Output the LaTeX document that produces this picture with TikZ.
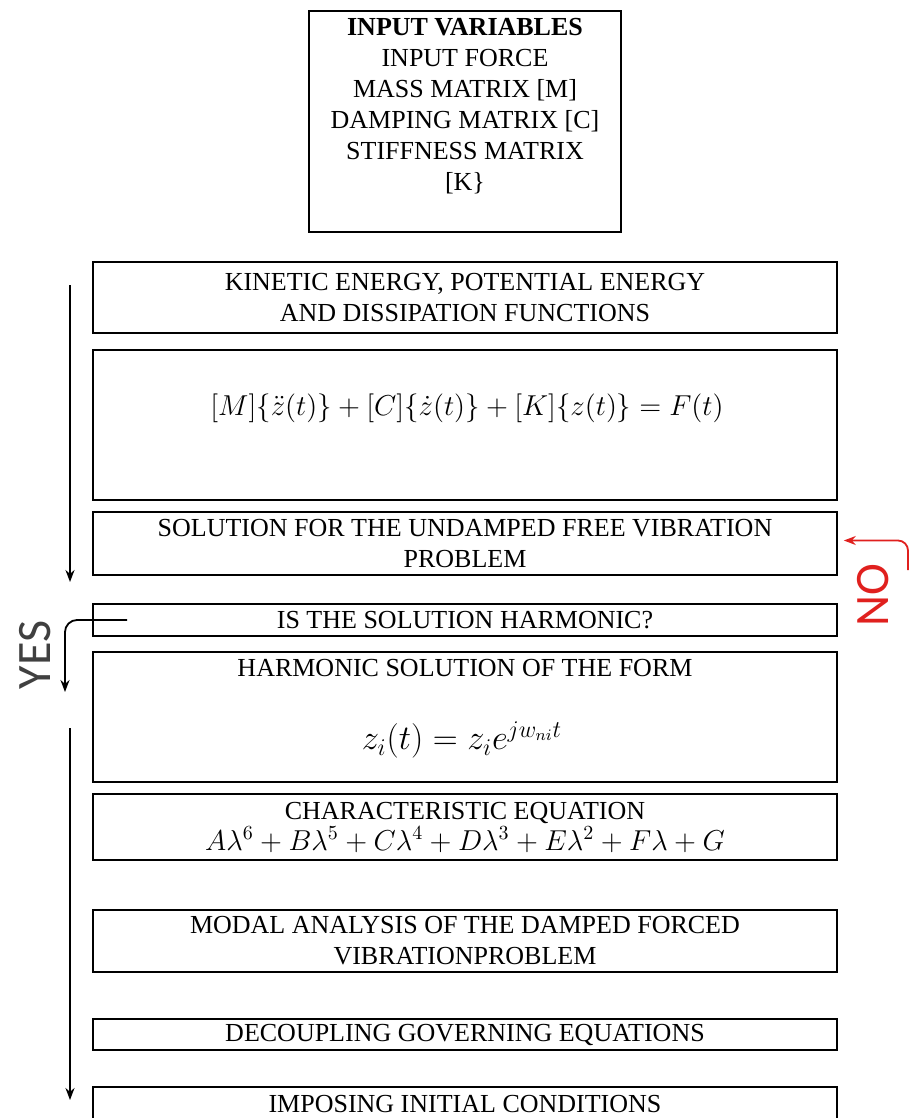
\documentclass[tikz,border=0pt]{standalone}
\usepackage{fontspec}
\setmainfont{Liberation Serif}
\newfontfamily\labelfont{Carlito}
\usetikzlibrary{arrows.meta}
\definecolor{nored}{RGB}{224,32,30}
\definecolor{yesgray}{RGB}{64,64,64}
\tikzset{
  stepbox/.style={draw, line width=0.8pt, minimum width=372pt, inner sep=0pt,
    align=center, font=\fontsize{13}{15.5}\selectfont},
  steptxt/.style={inner sep=0pt, align=center, font=\fontsize{13}{15.5}\selectfont},
  flow/.style={line width=0.9pt, -{Stealth[length=6pt,width=4.5pt]}},
  answer/.style={rotate=90, inner sep=0pt, font=\labelfont\fontsize{24}{24}\selectfont},
}
\begin{document}
\begin{tikzpicture}[x=0.5pt, y=-0.5pt]
    \clip (0,0) rectangle (911,1118);
    % Input variables
    \node[stepbox, minimum width=156pt, minimum height=110.5pt] (inputs) at (465,121.5) {};
    \node[steptxt] (inputtxt) at (465,106.5) {\textbf{INPUT VARIABLES}\\INPUT FORCE\\MASS MATRIX [M]\\DAMPING MATRIX [C]\\STIFFNESS MATRIX\\{[K\}}};
    % Steps of the analysis
    \node[stepbox, minimum height=35.5pt] (energy) at (465,297.5) {KINETIC ENERGY, POTENTIAL ENERGY\\AND DISSIPATION FUNCTIONS};
    \node[stepbox, minimum height=75pt] (motion) at (465,425) {};
    \node[steptxt, font=\fontsize{15.6}{18}\selectfont] (motioneq) at (467,408) {$[M]\{\ddot{z}(t)\}+[C]\{\dot{z}(t)\}+[K]\{z(t)\}=F(t)$};
    \node[stepbox, minimum height=31.5pt] (undamped) at (465,543.5) {SOLUTION FOR THE UNDAMPED FREE VIBRATION\\PROBLEM};
    \node[stepbox, minimum height=16pt] (check) at (465,620) {IS THE SOLUTION HARMONIC?};
    \node[stepbox, minimum height=65pt] (harmonic) at (465,717) {};
    \node[steptxt] (harmtitle) at (465,668) {HARMONIC SOLUTION OF THE FORM};
    \node[steptxt, font=\fontsize{17}{20}\selectfont] (harmeq) at (462,740) {$z_i(t)=z_ie^{jw_{ni}t}$};
    \node[stepbox, minimum height=33pt] (chareq) at (465,827) {CHARACTERISTIC EQUATION\\{\fontsize{14.8}{15.5}\selectfont$A\lambda^6+B\lambda^5+C\lambda^4+D\lambda^3+E\lambda^2+F\lambda+G$}};
    \node[stepbox, minimum height=31pt] (modal) at (465,941) {MODAL ANALYSIS OF THE DAMPED FORCED\\VIBRATIONPROBLEM};
    \node[stepbox, minimum height=15.5pt] (decouple) at (465,1034.5) {DECOUPLING GOVERNING EQUATIONS};
    \node[stepbox, minimum height=17pt] (initial) at (465,1104) {IMPOSING INITIAL CONDITIONS};
    % Flow arrows on the left
    \coordinate (upstart) at (70,285);
    \coordinate (upend) at (70,582);
    \coordinate (lowstart) at (70,728);
    \coordinate (lowend) at (70,1100);
    \draw[flow] (upstart) -- (upend);
    \draw[flow] (lowstart) -- (lowend);
    % YES branch
    \coordinate (yesend) at (65,692);
    \draw[flow, rounded corners=6pt] ([xshift=17.5pt]check.west) -| (yesend);
    \node[answer, text=yesgray] (yes) at (35,655) {YES};
    % NO branch
    \coordinate (nostart) at (908,570);
    \draw[flow, nored, rounded corners=5pt] (nostart) |- ([xshift=3pt,yshift=1.5pt]undamped.east);
    \node[answer, text=nored] (no) at (873,595) {NO};
\end{tikzpicture}
\end{document}
